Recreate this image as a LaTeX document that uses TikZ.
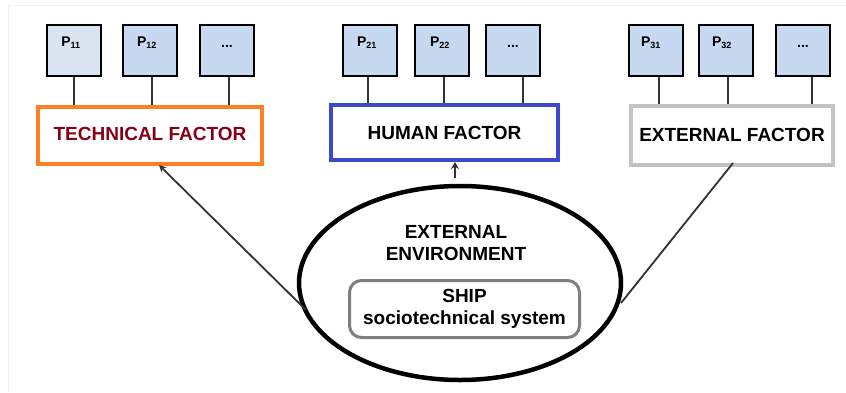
\documentclass[tikz,border=0pt]{standalone}
\usepackage{fontspec}
\setmainfont{Liberation Sans}
\usetikzlibrary{shapes.geometric,arrows.meta,calc}
\definecolor{boxfill}{HTML}{C6D9F1}
\definecolor{boxfilllight}{HTML}{DAE4F1}
\definecolor{techorange}{HTML}{FF7F27}
\definecolor{techred}{HTML}{880015}
\definecolor{humanblue}{HTML}{3F48CC}
\definecolor{extgray}{HTML}{C3C3C3}
\definecolor{innergray}{HTML}{7F7F7F}
\definecolor{framecol}{HTML}{EEF2F8}
\begin{document}
\begin{tikzpicture}[x=1pt,y=-1pt,
  pbox/.style={draw=black,line width=1.8pt,fill=boxfill,minimum width=54pt,minimum height=51pt,inner sep=0pt},
  plabel/.style={font=\bfseries\fontsize{14}{14}\selectfont,inner sep=0pt},
  factor/.style={draw,line width=4pt,fill=white,inner sep=0pt,font=\bfseries\fontsize{19}{19}\selectfont},
  plink/.style={draw=black!80,line width=1.6pt},
  conn/.style={draw=black!80,line width=1.8pt}]
\useasboundingbox (0,0) rectangle (846,392);
\fill[white] (0,0) rectangle (846,392);
\draw[framecol,line width=1pt] (8,392) coordinate (fa) -- (8,5) coordinate (fb) -- (846,5) coordinate (fc);

% factor boxes
\node[factor,draw=techorange,text=techred,minimum width=224pt,minimum height=57pt] (tf) at (150,135.5) {\raisebox{4pt}{TECHNICAL FACTOR}};
\node[factor,draw=humanblue,minimum width=227pt,minimum height=55pt] (hf) at (444.5,132.5) {HUMAN FACTOR};
\node[factor,draw=extgray,minimum width=202pt,minimum height=59pt] (ef) at (732,135.5) {\raisebox{2pt}{EXTERNAL FACTOR}};

% P boxes group 1
\node[pbox,fill=boxfilllight] (p11) at (74,50.5) {};
\node[pbox] (p12) at (150,50.5) {};
\node[pbox] (p13) at (227,50.5) {};
% group 2
\node[pbox] (p21) at (370,50.5) {};
\node[pbox] (p22) at (442,50.5) {};
\node[pbox] (p23) at (513,50.5) {};
% group 3
\node[pbox] (p31) at (656,50.5) {};
\node[pbox] (p32) at (726,50.5) {};
\node[pbox] (p33) at (803,50.5) {};

\node[plabel] (l11) at (71,43) {P\textsubscript{\fontsize{9}{9}\selectfont 11}};
\node[plabel] (l12) at (147,43) {P\textsubscript{\fontsize{9}{9}\selectfont 12}};
\node[plabel] (l13) at (227,46) {...};
\node[plabel] (l21) at (367,43) {P\textsubscript{\fontsize{9}{9}\selectfont 21}};
\node[plabel] (l22) at (440,43) {P\textsubscript{\fontsize{9}{9}\selectfont 22}};
\node[plabel] (l23) at (513,46) {...};
\node[plabel] (l31) at (651,43) {P\textsubscript{\fontsize{9}{9}\selectfont 31}};
\node[plabel] (l32) at (722,43) {P\textsubscript{\fontsize{9}{9}\selectfont 32}};
\node[plabel] (l33) at (803,46) {...};

% links P -> factor
\foreach \p/\f/\dx in {p11/tf/0,p12/tf/2,p13/tf/2,p21/hf/-2,p22/hf/2,p23/hf/10,p31/ef/3,p32/ef/2,p33/ef/9}{
  \draw[plink] ([xshift=\dx pt]\p.south) -- ([xshift=\dx pt]\p.south |- \f.north);
}

% ellipse
\node[ellipse,draw=black,line width=4.5pt,minimum width=322pt,minimum height=194pt,inner sep=0pt] (env) at (460,283) {};
\node[font=\bfseries\fontsize{19}{22}\selectfont,align=center,inner sep=0pt] (envt) at (456,243) {EXTERNAL\\ENVIRONMENT};
\node[draw=innergray,line width=3pt,rounded corners=12pt,minimum width=230pt,minimum height=57pt,inner sep=0pt,
      font=\bfseries\fontsize{19}{22}\selectfont,align=center] (ship) at (464.5,309) {SHIP\\sociotechnical system};

% connectors
\coordinate (el) at (306,310);
\coordinate (eh) at (455,178);
\coordinate (er) at (621,303);
\draw[conn,-{Stealth[length=7pt,width=7pt]}] (el) -- ([xshift=9pt,yshift=1pt]tf.south);
\draw[conn,line width=2.2pt,-{Stealth[length=7pt,width=8pt]}] (eh) -- ([xshift=10.5pt]hf.south);
\draw[conn] (er) -- ([xshift=1pt,yshift=4pt]ef.south);
\end{tikzpicture}
\end{document}
